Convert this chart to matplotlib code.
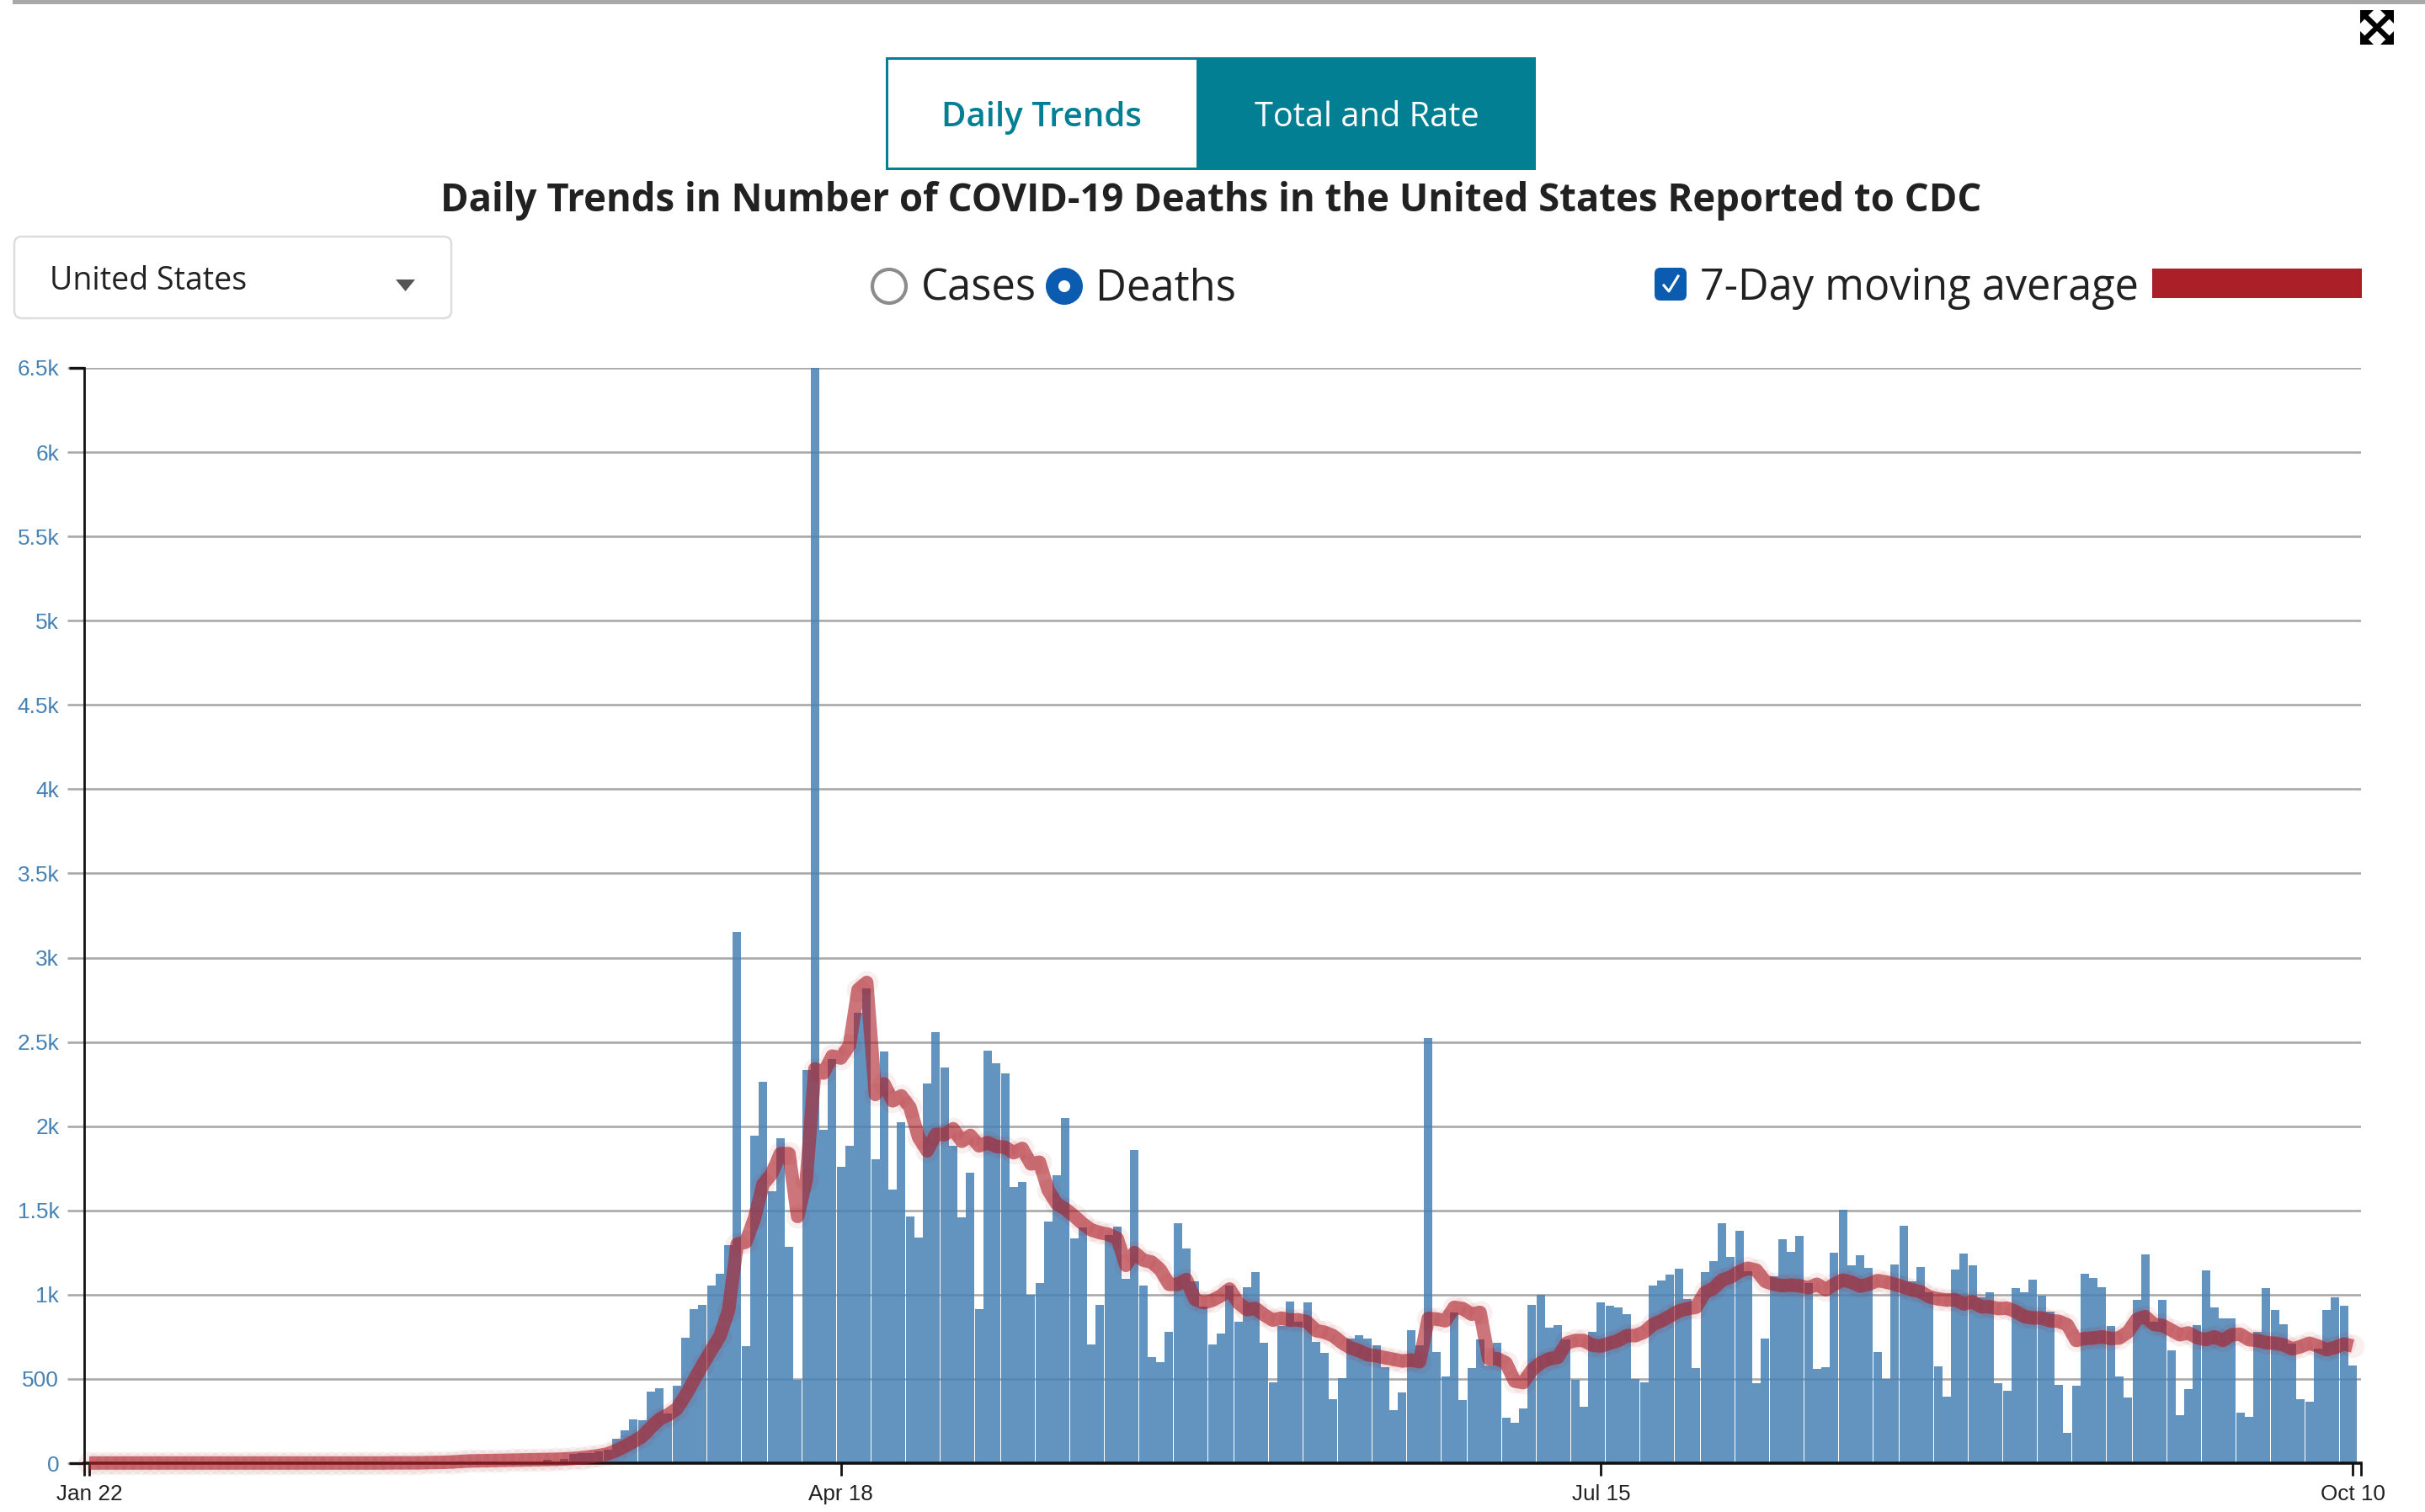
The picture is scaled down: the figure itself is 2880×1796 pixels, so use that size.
import matplotlib as mpl
mpl.use('Agg')
import matplotlib.pyplot as plt
import numpy as np
from matplotlib.patches import Rectangle, Circle, FancyBboxPatch, Polygon

W, H = 2880, 1796

# daily deaths, one value per day from Jan 22 to Oct 10
deaths = [
    0, 0, 0, 0, 0, 0, 0, 0, 0, 0,
    0, 0, 0, 0, 0, 0, 0, 0, 0, 0,
    0, 0, 0, 0, 0, 0, 0, 0, 0, 0,
    0, 0, 0, 0, 0, 0, 0, 0, 1, 0,
    1, 2, 5, 8, 3, 8, 3, 8, 4, 8,
    7, 7, 4, 18, 10, 23, 53, 58, 60, 70,
    80, 145, 195, 262, 256, 427, 445, 297, 458, 746,
    916, 937, 1056, 1124, 1294, 3155, 695, 1944, 2261, 1612,
    1931, 1282, 497, 2335, 6500, 1980, 2396, 1761, 1886, 2675,
    2820, 1805, 2442, 1624, 2025, 1464, 1340, 2251, 2556, 2350,
    1882, 1457, 1724, 915, 2449, 2375, 2315, 1640, 1669, 997,
    1069, 1434, 1710, 2050, 1335, 1399, 705, 939, 1353, 1405,
    1094, 1860, 1055, 630, 600, 779, 1425, 1275, 1080, 931,
    705, 770, 1053, 840, 1044, 1135, 715, 482, 814, 960,
    840, 954, 719, 655, 379, 505, 740, 760, 740, 700,
    569, 315, 420, 789, 700, 2525, 659, 515, 895, 377,
    567, 732, 578, 712, 272, 242, 327, 937, 997, 802,
    817, 732, 497, 337, 777, 952, 932, 922, 882, 502,
    478, 1052, 1082, 1117, 1152, 972, 567, 1132, 1197, 1422,
    1222, 1377, 1137, 473, 737, 1110, 1327, 1252, 1347, 1067,
    562, 572, 1247, 1502, 1172, 1232, 1157, 657, 502, 1177,
    1407, 1077, 1162, 1012, 577, 397, 1147, 1242, 1172, 982,
    1012, 477, 432, 1037, 1012, 1087, 992, 897, 467, 182,
    462, 1122, 1097, 1042, 812, 517, 392, 967, 1237, 837,
    967, 667, 287, 442, 817, 1142, 922, 857, 857, 302,
    277, 777, 1037, 907, 822, 707, 382, 367, 678, 907,
    982, 932, 582,
]

# 7-day moving average, same days
average = [
    1, 1, 1, 1, 1, 1, 1, 1, 1, 1,
    1, 1, 1, 1, 1, 1, 1, 1, 1, 1,
    1, 1, 1, 1, 1, 1, 1, 1, 1, 1,
    1, 1, 1, 1, 1, 2, 2, 2, 2, 3,
    4, 5, 7, 10, 13, 14, 15, 16, 17, 18,
    19, 20, 21, 22, 23, 25, 28, 32, 38, 45,
    55, 75, 100, 128, 158, 212, 261, 287, 322, 401,
    492, 584, 670, 754, 906, 1300, 1312, 1452, 1655, 1718,
    1837, 1837, 1464, 1680, 2340, 2315, 2416, 2404, 2480, 2810,
    2853, 2188, 2251, 2150, 2180, 2112, 1934, 1853, 1952, 1949,
    1985, 1910, 1945, 1883, 1903, 1879, 1875, 1842, 1868, 1776,
    1786, 1621, 1539, 1508, 1467, 1421, 1384, 1368, 1358, 1333,
    1174, 1250, 1205, 1193, 1147, 1061, 1061, 1090, 972, 952,
    966, 993, 1034, 952, 911, 919, 880, 849, 861, 849,
    851, 838, 787, 777, 756, 715, 684, 667, 643, 637,
    626, 616, 606, 612, 602, 859, 855, 845, 925, 917,
    884, 895, 620, 620, 595, 487, 478, 553, 595, 620,
    628, 712, 728, 728, 700, 695, 712, 728, 757, 757,
    778, 823, 845, 873, 903, 917, 925, 1012, 1037, 1087,
    1104, 1137, 1157, 1145, 1079, 1062, 1053, 1057, 1053, 1040,
    1062, 1029, 1062, 1087, 1074, 1050, 1062, 1084, 1075, 1062,
    1045, 1029, 1017, 987, 975, 968, 970, 945, 958, 928,
    928, 917, 920, 900, 870, 862, 862, 845, 842, 820,
    728, 740, 743, 750, 740, 743, 778, 853, 870, 823,
    817, 790, 762, 773, 745, 733, 750, 728, 762, 765,
    733, 728, 715, 712, 703, 678, 692, 712, 695, 673,
    687, 708, 695,
]

y_ticks  = [0, 500, 1000, 1500, 2000, 2500, 3000, 3500, 4000, 4500, 5000, 5500, 6000, 6500]
y_labels = ['0', '500', '1k', '1.5k', '2k', '2.5k', '3k', '3.5k', '4k', '4.5k', '5k', '5.5k', '6k', '6.5k']
x_ticks  = [0, 87, 175, 262]
x_labels = ['Jan 22', 'Apr 18', 'Jul 15', 'Oct 10']

days = np.arange(len(deaths))

ax_left, ax_right, ax_top, ax_bottom = 100, 2804, 437, 1738
day_px = 2688 / 262

fig = plt.figure(figsize=(W / 100, H / 100), dpi=100, facecolor='white')

# page controls above the chart, drawn in pixel coordinates
ui = fig.add_axes([0, 0, 1, 1])
ui.set_xlim(0, W)
ui.set_ylim(H, 0)
ui.axis('off')

teal = '#027f93'
blue = '#0b5cb0'
ink  = '#212121'
sans = 'Open Sans'

ui.add_patch(Rectangle((15, 0), W - 15, 5, color='#a9a9a9', lw=0))

ui.add_patch(Rectangle((1052, 68), 772, 134, color=teal, lw=0))
ui.add_patch(Rectangle((1055, 71), 366, 128, color='white', lw=0))
ui.text(1237, 140, 'Daily Trends', color=teal, fontsize=29, fontweight='semibold', family=sans, ha='center', va='center')
ui.text(1623, 140, 'Total and Rate', color='white', fontsize=28.6, family=sans, ha='center', va='center')

ui.text(1438, 239, 'Daily Trends in Number of COVID-19 Deaths in the United States Reported to CDC',
        color=ink, fontsize=32.8, fontweight='bold', family=sans, ha='center', va='center')

ui.add_patch(FancyBboxPatch((17, 281), 519, 97, boxstyle='round,pad=0,rounding_size=9',
                            edgecolor='#dddddd', facecolor='white', linewidth=1.8))
ui.text(59, 334, 'United States', color=ink, fontsize=27, family=sans, ha='left', va='center')
ui.add_patch(Polygon([[470, 332], [493, 332], [481.5, 346]], color='#555555', lw=0))

ui.add_patch(Circle((1056, 340), 20, edgecolor='#8c8c8c', facecolor='white', linewidth=3))
ui.text(1094, 343, 'Cases', color=ink, fontsize=36.5, family=sans, ha='left', va='center')
ui.add_patch(Circle((1264, 340), 22, color=blue, lw=0))
ui.add_patch(Circle((1264, 340), 7, color='white', lw=0))
ui.text(1301, 343, 'Deaths', color=ink, fontsize=36.5, family=sans, ha='left', va='center')

ui.add_patch(FancyBboxPatch((1965, 318), 38, 39, boxstyle='round,pad=0,rounding_size=7', color=blue, lw=0))
ui.plot([1976, 1982, 1993], [339, 346, 328], color='white', lw=2.2)
ui.text(2019, 343, '7-Day moving average', color=ink, fontsize=36.4, family=sans, ha='left', va='center')
ui.add_patch(Rectangle((2556, 319), 249, 35, color='#ab2028', lw=0))

# expand icon
ui.plot([2806, 2840], [16, 49], color='black', lw=4.5, solid_capstyle='butt')
ui.plot([2840, 2806], [16, 49], color='black', lw=4.5, solid_capstyle='butt')
for cx, cy, sx, sy in [(2803, 12, 1, 1), (2843, 12, -1, 1), (2803, 53, 1, -1), (2843, 53, -1, -1)]:
    ui.add_patch(Polygon([[cx, cy], [cx + sx * 16, cy], [cx, cy + sy * 16]], color='black', lw=0))

# chart
ax = fig.add_axes([ax_left / W, 1 - ax_bottom / H, (ax_right - ax_left) / W, (ax_bottom - ax_top) / H])
ax.patch.set_alpha(0)
ax.set_xlim((ax_left - 106) / day_px, (ax_right - 106) / day_px)
ax.set_ylim(0, 6500)

ax.grid(axis='y', color='#a9a9a9', linewidth=1.9, zorder=1)
ax.set_axisbelow(True)

ax.bar(days, deaths, width=10 / day_px, color='#4682b4', alpha=0.85, linewidth=0, snap=True, zorder=2)

ax.plot(days, average, color='#ad2029', linewidth=11.5, alpha=0.62, solid_capstyle='butt',
        solid_joinstyle='round', clip_on=False, zorder=3)
ax.scatter(days, average, s=400, color='#ad2029', alpha=0.07, linewidths=0, clip_on=False, zorder=4)

for side in ('top', 'right'):
    ax.spines[side].set_visible(False)
ax.spines['left'].set_linewidth(2)
ax.spines['bottom'].set_linewidth(2.6)
ax.spines['left'].set_color('#111111')
ax.spines['bottom'].set_color('#111111')

ax.set_yticks(y_ticks, labels=y_labels)
ax.tick_params(axis='y', length=14.4, width=1.9, color='#a9a9a9', pad=7, labelsize=19, labelcolor='#4682b4')
ax.set_xticks(x_ticks, labels=x_labels)
ax.tick_params(axis='x', length=10.8, width=2, color='#111111', pad=7, labelsize=18.8, labelcolor=ink)
for lab in ax.get_xticklabels() + ax.get_yticklabels():
    lab.set_family('Liberation Sans')

# outer ticks of the axis domains
ax.xaxis.remove_overlapping_locs = False
ax.yaxis.remove_overlapping_locs = False
ax.set_xticks(ax.get_xlim(), minor=True)
ax.set_yticks([0, 6500], minor=True)
ax.tick_params(axis='x', which='minor', length=10.8, width=2, color='#111111')
ax.tick_params(axis='y', which='minor', length=13, width=2.4, color='#111111')

fig.savefig('out.png', dpi=100)
